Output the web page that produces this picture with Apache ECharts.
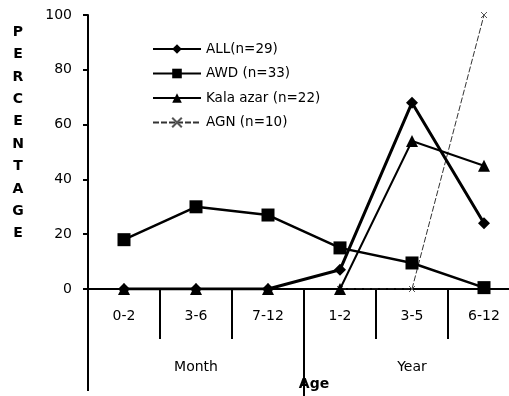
<!DOCTYPE html>
<html><head><meta charset="utf-8">
<script src="https://cdn.jsdelivr.net/npm/echarts@6/dist/echarts.min.js"></script>
<style>html,body{margin:0;padding:0;background:#fff;overflow:hidden}#c{width:520px;height:396px}</style>
</head><body><div id="c"></div>
<script>
var categories = ['0-2','3-6','7-12','1-2','3-5','6-12'];
var allVals = [0, 0, 0, 7, 68, 24];
var awdVals = [18, 30, 27, 15, 9.5, 0.5];
var kalaVals = [0, 0, 0, 0, 54, 45];
var agnVals = [0, 0, 0, 0, 0, 100];
var yTicks = [0, 20, 40, 60, 80, 100];
var groupLabels = ['Month', 'Year'];

var chart = echarts.init(document.getElementById('c'));
var font = '"DejaVu Sans", Arial, sans-serif';
var xMark = 'path://M0,0 L10,10 M10,0 L0,10 M0,0 L10,10';
chart.setOption({
  animation: false,
  backgroundColor: '#fff',
  grid: { left: 88, top: 15, bottom: 107, right: 0 },
  legend: {
    left: 147, top: 37, orient: 'vertical', itemWidth: 48, itemHeight: 12, itemGap: 10.5,
    textStyle: { fontFamily: font, fontSize: 13.5, color: '#000' },
    data: ['ALL(n=29)', 'AWD (n=33)', 'Kala azar (n=22)', 'AGN (n=10)']
  },
  xAxis: {
    type: 'category', data: categories, boundaryGap: true,
    axisLine: { lineStyle: { color: '#000', width: 2 } },
    axisTick: { show: true, length: 50, lineStyle: { color: '#000', width: 2 } },
    axisLabel: { color: '#000', fontFamily: font, fontSize: 14, margin: 20 }
  },
  yAxis: {
    type: 'value', min: 0, max: 100, interval: 20,
    axisLine: { show: true, lineStyle: { color: '#000', width: 2 } },
    axisTick: { show: true, length: 5, lineStyle: { color: '#000', width: 2 } },
    splitLine: { show: false },
    axisLabel: { color: '#000', fontFamily: font, fontSize: 14, margin: 16,
      formatter: function (v) { return yTicks.indexOf(v) >= 0 ? String(v) : ''; } }
  },
  series: [
    { name: 'ALL(n=29)', type: 'line', data: allVals, symbol: 'diamond', symbolSize: 12,
      itemStyle: { color: '#000' }, lineStyle: { color: '#000', width: 3 }, z: 4 },
    { name: 'AWD (n=33)', type: 'line', data: awdVals, symbol: 'rect', symbolSize: 13,
      itemStyle: { color: '#000' }, lineStyle: { color: '#000', width: 2.5 }, z: 3 },
    { name: 'Kala azar (n=22)', type: 'line', data: kalaVals, symbol: 'triangle', symbolSize: 12,
      itemStyle: { color: '#000' }, lineStyle: { color: '#000', width: 2 }, z: 5 },
    { name: 'AGN (n=10)', type: 'line', data: agnVals, symbol: xMark, symbolSize: 6,
      showSymbol: true,
      itemStyle: { color: '#fff', borderColor: '#555', borderWidth: 1 },
      lineStyle: { color: '#333', width: 1, type: [6, 2] }, z: 2 }
  ]
});

function place() {
  var p0 = chart.convertToPixel({ xAxisIndex: 0 }, 0);
  var p1 = chart.convertToPixel({ xAxisIndex: 0 }, 1);
  var step = p1 - p0;
  var y0 = chart.convertToPixel({ yAxisIndex: 0 }, 0);
  var leftX = p0 - step / 2;
  var midX = chart.convertToPixel({ xAxisIndex: 0 }, 2) + step / 2;
  var monthX = chart.convertToPixel({ xAxisIndex: 0 }, 1);
  var yearX = chart.convertToPixel({ xAxisIndex: 0 }, 4);
  chart.setOption({
    graphic: [
      { type: 'line', shape: { x1: leftX, y1: y0, x2: leftX, y2: 391 }, style: { stroke: '#000', lineWidth: 2 } },
      { type: 'line', shape: { x1: midX, y1: y0, x2: midX, y2: 396 }, style: { stroke: '#000', lineWidth: 2 } },
      { type: 'text', x: monthX, y: 367, style: { text: groupLabels[0], fill: '#000', font: '14px ' + font, textAlign: 'center', textVerticalAlign: 'middle' } },
      { type: 'text', x: yearX, y: 367, style: { text: groupLabels[1], fill: '#000', font: '14px ' + font, textAlign: 'center', textVerticalAlign: 'middle' } },
      { type: 'text', x: midX + 10, y: 384, style: { text: 'Age', fill: '#000', font: 'bold 14px ' + font, textAlign: 'center', textVerticalAlign: 'middle' } },
      { type: 'text', x: 18, y: 21, style: { text: 'PERCENTAGE'.split('').join('\n'), fill: '#000', font: 'bold 14px ' + font, textAlign: 'center', lineHeight: 22.4 } }
    ]
  });
}
place();
</script></body></html>
